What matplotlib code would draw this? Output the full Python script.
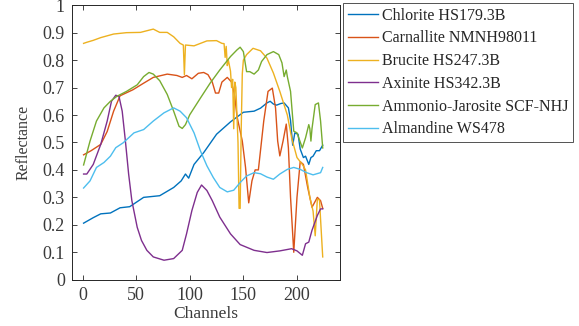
"""Reflectance spectra of six minerals."""

import matplotlib.pyplot as plt

names = [
    "Chlorite HS179.3B",
    "Carnallite NMNH98011",
    "Brucite HS247.3B",
    "Axinite HS342.3B",
    "Ammonio-Jarosite SCF-NHJ",
    "Almandine WS478",
]

chlorite_ch = [1, 10, 17, 26, 35, 44, 57, 72, 85, 92, 96, 99, 104, 113, 125, 138, 150,
               160, 166, 172, 175, 178, 181, 185, 188, 192, 194, 196, 198, 201, 203,
               206, 208, 211, 213, 215, 218, 221, 224]
chlorite_val = [0.206, 0.226, 0.24, 0.243, 0.262, 0.266, 0.30, 0.306, 0.336, 0.36, 0.385,
                0.37, 0.42, 0.463, 0.53, 0.575, 0.61, 0.614, 0.625, 0.644, 0.65, 0.64,
                0.636, 0.642, 0.644, 0.626, 0.58, 0.49, 0.535, 0.53, 0.476, 0.445, 0.45,
                0.42, 0.445, 0.45, 0.47, 0.47, 0.49]

carnallite_ch = [1, 8, 17, 23, 29, 35, 47, 57, 66, 79, 88, 93, 97, 102, 108, 113, 117,
                 121, 124, 127, 130, 135, 139, 142, 144, 149, 152, 155, 158, 161, 164,
                 169, 173, 177, 180, 182, 184, 187, 190, 192, 194, 197, 200, 203, 206,
                 210, 214, 219, 222, 224]
carnallite_val = [0.455, 0.47, 0.493, 0.54, 0.614, 0.67, 0.692, 0.716, 0.737, 0.749,
                  0.744, 0.737, 0.744, 0.732, 0.752, 0.755, 0.747, 0.72, 0.68, 0.68, 0.72,
                  0.737, 0.72, 0.668, 0.596, 0.505, 0.41, 0.28, 0.36, 0.40, 0.40, 0.578,
                  0.686, 0.698, 0.626, 0.505, 0.451, 0.505, 0.567, 0.48, 0.30, 0.10,
                  0.30, 0.43, 0.42, 0.336, 0.264, 0.30, 0.288, 0.26]

brucite_ch = [1, 4, 10, 17, 29, 41, 54, 63, 66, 72, 79, 85, 91, 94, 95, 96, 104, 116,
              125, 130, 132, 133, 134, 135, 136, 138, 139, 140, 141, 142, 143, 145, 146,
              147, 148, 149, 150, 153, 159, 166, 172, 178, 184, 191, 195, 200, 205, 208,
              212, 215, 217, 219, 221, 222, 224]
brucite_val = [0.861, 0.865, 0.872, 0.882, 0.895, 0.90, 0.901, 0.91, 0.913, 0.901, 0.901,
               0.885, 0.861, 0.855, 0.747, 0.855, 0.852, 0.87, 0.871, 0.861, 0.86, 0.81,
               0.85, 0.78, 0.80, 0.76, 0.70, 0.73, 0.55, 0.72, 0.70, 0.50, 0.26, 0.26,
               0.55, 0.75, 0.80, 0.82, 0.843, 0.834, 0.807, 0.753, 0.686, 0.60, 0.517,
               0.445, 0.42, 0.40, 0.30, 0.25, 0.16, 0.294, 0.29, 0.22, 0.083]

axinite_ch = [1, 4, 10, 17, 23, 27, 31, 34, 37, 40, 43, 46, 51, 55, 60, 66, 76, 85, 93,
              97, 102, 107, 111, 116, 121, 128, 138, 147, 160, 172, 184, 195, 200, 205,
              208, 211, 214, 219, 222, 224]
axinite_val = [0.385, 0.385, 0.42, 0.493, 0.578, 0.65, 0.672, 0.668, 0.614, 0.505, 0.385,
               0.288, 0.191, 0.143, 0.107, 0.083, 0.071, 0.077, 0.107, 0.167, 0.252,
               0.318, 0.345, 0.325, 0.288, 0.228, 0.167, 0.128, 0.107, 0.099, 0.105,
               0.113, 0.105, 0.089, 0.131, 0.137, 0.18, 0.234, 0.258, 0.258]

jarosite_ch = [1, 7, 13, 20, 26, 32, 41, 51, 57, 62, 66, 72, 79, 85, 90, 93, 96, 100,
               110, 119, 128, 138, 144, 147, 150, 153, 156, 160, 164, 167, 172, 178, 183,
               186, 188, 190, 191, 194, 197, 200, 205, 208, 211, 212, 213, 214, 217, 220,
               222, 224]
jarosite_val = [0.418, 0.505, 0.578, 0.626, 0.65, 0.668, 0.686, 0.71, 0.74, 0.755, 0.749,
                0.725, 0.675, 0.614, 0.559, 0.551, 0.565, 0.601, 0.662, 0.716, 0.764,
                0.813, 0.837, 0.847, 0.831, 0.758, 0.758, 0.749, 0.764, 0.795, 0.82,
                0.831, 0.82, 0.79, 0.74, 0.764, 0.74, 0.686, 0.541, 0.535, 0.48, 0.517,
                0.565, 0.55, 0.505, 0.55, 0.638, 0.644, 0.578, 0.48]

almandine_ch = [1, 7, 13, 20, 26, 31, 38, 48, 57, 66, 76, 85, 91, 97, 104, 110, 116, 122,
                128, 135, 141, 147, 153, 160, 166, 172, 178, 184, 191, 197, 203, 209,
                215, 222, 224]
almandine_val = [0.334, 0.36, 0.409, 0.427, 0.45, 0.481, 0.499, 0.535, 0.547, 0.578,
                 0.608, 0.626, 0.614, 0.59, 0.535, 0.469, 0.415, 0.372, 0.336, 0.32,
                 0.326, 0.354, 0.378, 0.39, 0.386, 0.374, 0.366, 0.385, 0.402, 0.409,
                 0.402, 0.39, 0.382, 0.39, 0.409]

colors = ["#0072BD", "#D95319", "#EDB120", "#7E2F8E", "#77AC30", "#4DBEEE"]

plt.rcParams.update(
    {
        "font.family": "Liberation Serif",
        "font.size": 11.5,
        "axes.edgecolor": "#262626",
        "axes.linewidth": 0.7,
        "xtick.color": "#262626",
        "ytick.color": "#262626",
        "xtick.labelcolor": "#3a3a3a",
        "ytick.labelcolor": "#3a3a3a",
        "xtick.labelsize": 13,
        "ytick.labelsize": 13,
        "xtick.direction": "in",
        "ytick.direction": "in",
        "xtick.top": True,
        "ytick.right": True,
        "xtick.major.size": 3.5,
        "ytick.major.size": 3.5,
        "xtick.major.width": 0.6,
        "ytick.major.width": 0.6,
        "xtick.major.pad": 5,
        "ytick.major.pad": 5,
    }
)

fig = plt.figure(figsize=(5.79, 3.26), dpi=100)
ax = fig.add_axes([0.124, 0.142, 0.463, 0.842])

series = [
    (chlorite_ch, chlorite_val),
    (carnallite_ch, carnallite_val),
    (brucite_ch, brucite_val),
    (axinite_ch, axinite_val),
    (jarosite_ch, jarosite_val),
    (almandine_ch, almandine_val),
]
lines = []
for (ch, val), c, name in zip(series, colors, names):
    (ln,) = ax.plot(ch, val, color=c, linewidth=1.0, label=name)
    lines.append(ln)

ax.set_xlim(-10, 240)
ax.set_ylim(0, 1)
ax.set_xticks([0, 50, 100, 150, 200])
ax.set_yticks([0, 0.1, 0.2, 0.3, 0.4, 0.5, 0.6, 0.7, 0.8, 0.9, 1])
ax.set_yticklabels(["0", "0.1", "0.2", "0.3", "0.4", "0.5", "0.6", "0.7", "0.8", "0.9", "1"])
ax.set_xlabel("Channels", color="#3a3a3a", fontsize=12.5, labelpad=2)
ax.set_ylabel("Reflectance", color="#3a3a3a", fontsize=11.5, labelpad=8)

leg = fig.legend(
    handles=lines,
    loc="upper left",
    bbox_to_anchor=(343 / 579, 1 - 3 / 326),
    frameon=True,
    fancybox=False,
    edgecolor="#262626",
    handlelength=1.9,
    handletextpad=0.25,
    borderpad=0.3,
    labelspacing=0.42,
    borderaxespad=0,
)
leg.get_frame().set_linewidth(0.7)
for t in leg.get_texts():
    t.set_color("#262626")

fig.savefig("out.png", dpi=100)
